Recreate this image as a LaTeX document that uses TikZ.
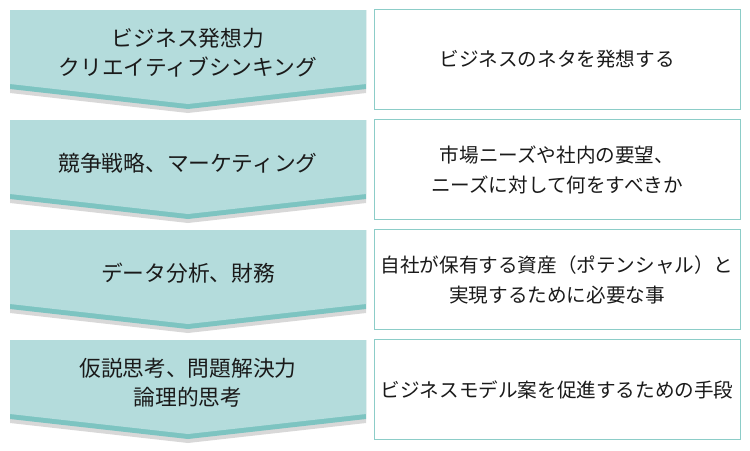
\documentclass[tikz,border=0pt]{standalone}
\usepackage{fontspec}
\setmainfont{Noto Sans CJK JP}
\usepackage{xcolor}
\usepackage{tikz}

\definecolor{stepfill}{HTML}{B4DCDC}
\definecolor{stepband}{HTML}{7DC4C1}
\definecolor{stepshade}{HTML}{D8D8D8}
\definecolor{boxline}{HTML}{8CCDC8}
\definecolor{inktext}{HTML}{1A1A1A}

\begin{document}
\begin{tikzpicture}[
        x=0.75pt, y=-0.75pt,
        steptext/.style={text=inktext, align=center,
            font=\fontsize{16.3}{21.75}\selectfont},
        descbox/.style={draw=boxline, line width=0.75pt, fill=white,
            minimum width=274.5pt, minimum height=75.5pt, inner sep=0pt,
            text=inktext, align=center,
            font=\fontsize{14.7}{22.5}\selectfont}]

    \useasboundingbox (0,0) rectangle (750,450);

    % chevrons
    \foreach \t in {10,120,230,340} {
        \fill[stepshade] (10,\t) -- (366,\t) -- (366,\t+83) -- (188,\t+103) -- (10,\t+83) -- cycle;
        \fill[stepband]  (10,\t) -- (366,\t) -- (366,\t+79) -- (188,\t+99)  -- (10,\t+79) -- cycle;
        \fill[stepfill]  (10,\t) -- (366,\t) -- (366,\t+74) -- (188,\t+94)  -- (10,\t+74) -- cycle;
    }

    \node[steptext] (s1) at (188,53)  {ビジネス発想力\\クリエイティブシンキング};
    \node[steptext] (s2) at (188,163) {競争戦略、マーケティング};
    \node[steptext] (s3) at (188,273) {データ分析、財務};
    \node[steptext] (s4) at (188,383) {仮説思考、問題解決力\\論理的思考};

    % descriptions
    \node[descbox] (d1) at (557,59.5)  {ビジネスのネタを発想する};
    \node[descbox] (d2) at (557,169.5) {市場ニーズや社内の要望、\\ニーズに対して何をすべきか};
    \node[descbox] (d3) at (557,279.5) {自社が保有する資産（ポテンシャル）と\\実現するために必要な事};
    \node[descbox] (d4) at (557,389.5) {ビジネスモデル案を促進するための手段};
\end{tikzpicture}
\end{document}
